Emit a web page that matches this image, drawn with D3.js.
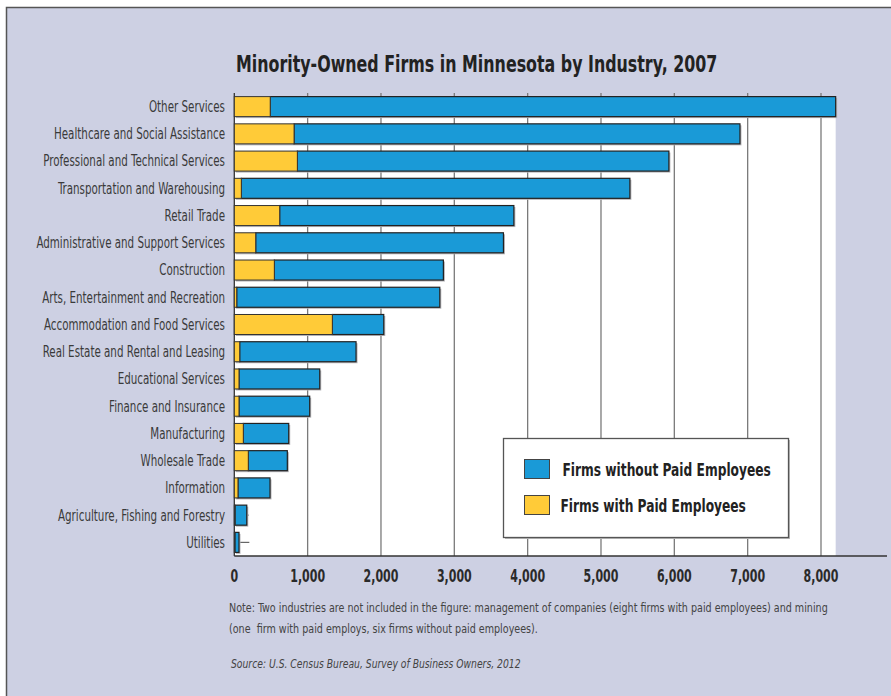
<!DOCTYPE html>
<html>
<head>
<meta charset="utf-8">
<script src="https://cdn.jsdelivr.net/npm/d3@7"></script>
<style>
  body { margin: 0; background: #fff; }
  svg { display: block; }
  text { font-family: "DejaVu Sans Condensed", "DejaVu Sans", sans-serif; font-stretch: condensed; }
</style>
</head>
<body>
<svg id="chart" width="891" height="696"></svg>
<script>
var industries = [
    "Other Services",
    "Healthcare and Social Assistance",
    "Professional and Technical Services",
    "Transportation and Warehousing",
    "Retail Trade",
    "Administrative and Support Services",
    "Construction",
    "Arts, Entertainment and Recreation",
    "Accommodation and Food Services",
    "Real Estate and Rental and Leasing",
    "Educational Services",
    "Finance and Insurance",
    "Manufacturing",
    "Wholesale Trade",
    "Information",
    "Agriculture, Fishing and Forestry",
    "Utilities"
];
var withPaid    = [490, 815, 860, 96, 619, 292, 546, 33, 1337, 74, 64, 64, 123, 191, 50, 10, 8];
var withoutPaid = [7710, 6080, 5066, 5298, 3193, 3378, 2305, 2769, 701, 1586, 1101, 964, 619, 532, 437, 160, 56];
// little leader lines past the two smallest bars
var leaderEnd   = [null, null, null, null, null, null, null, null, null, null, null, null, null, null, null, 196, 205];
var xTicks = [0, 1000, 2000, 3000, 4000, 5000, 6000, 7000, 8000];

var seriesNames = ["Firms without Paid Employees", "Firms with Paid Employees"];
var blue = "#1a9ad7", yellow = "#ffcb38";

var data = industries.map(function (d, i) {
    return {name: d, paid: withPaid[i], unpaid: withoutPaid[i], leader: leaderEnd[i]};
});

// squeeze text sideways, the original uses a condensed face
function squeeze(tx, ty, k) {
    return "translate(" + tx + "," + ty + ") scale(" + k + ",1)";
}

var svg = d3.select("#chart");

// panel
svg.append("rect")
    .attr("x", 6.5).attr("y", 7.5)
    .attr("width", 900).attr("height", 700)
    .attr("fill", "#cdd0e3")
    .attr("stroke", "#555").attr("stroke-width", 1.5);

svg.append("text")
    .attr("transform", squeeze(236, 72, 0.767))
    .attr("font-size", 23).attr("font-weight", "bold")
    .attr("fill", "#222")
    .text("Minority-Owned Firms in Minnesota by Industry, 2007");

var x = d3.scaleLinear().domain([0, 8000]).range([234.3, 821]);
var y = d3.scaleBand().domain(industries).range([93, 556])
    .paddingInner(0.265).paddingOuter(0.1325);

// white plot background
svg.append("rect")
    .attr("x", x(0)).attr("y", 96)
    .attr("width", x(8200) - x(0)).attr("height", 556 - 96)
    .attr("fill", "#fff");

// grid
svg.append("g").selectAll("line")
    .data(xTicks.slice(1))
    .enter().append("line")
    .attr("x1", function (d) { return x(d); })
    .attr("x2", function (d) { return x(d); })
    .attr("y1", 93).attr("y2", 556)
    .attr("stroke", "#7a7a7a").attr("stroke-width", 1.3);

svg.append("line")
    .attr("x1", x(0)).attr("x2", x(0))
    .attr("y1", 93).attr("y2", 556)
    .attr("stroke", "#333").attr("stroke-width", 1.3);

// bars
var rows = svg.append("g").selectAll("g")
    .data(data)
    .enter().append("g");

rows.append("line")
    .filter(function (d) { return d.leader != null; })
    .attr("x1", function (d) { return x(d.paid + d.unpaid); })
    .attr("x2", function (d) { return x(d.leader); })
    .attr("y1", function (d) { return y(d.name) + y.bandwidth() / 2; })
    .attr("y2", function (d) { return y(d.name) + y.bandwidth() / 2; })
    .attr("stroke", "#666").attr("stroke-width", 1.2);

rows.append("rect")
    .attr("x", function (d) { return x(0) + 1.5; })
    .attr("y", function (d) { return y(d.name) + 1.5; })
    .attr("width", function (d) { return x(d.paid + d.unpaid) - x(0); })
    .attr("height", y.bandwidth())
    .attr("fill", "#b4b4b8");

rows.append("rect")
    .attr("x", function (d) { return x(d.paid); })
    .attr("y", function (d) { return y(d.name); })
    .attr("width", function (d) { return x(d.paid + d.unpaid) - x(d.paid); })
    .attr("height", y.bandwidth())
    .attr("fill", blue).attr("stroke", "#222").attr("stroke-width", 1.2);

rows.append("rect")
    .attr("x", x(0))
    .attr("y", function (d) { return y(d.name); })
    .attr("width", function (d) { return x(d.paid) - x(0); })
    .attr("height", y.bandwidth())
    .attr("fill", yellow).attr("stroke", "#333").attr("stroke-width", 1);

rows.append("text")
    .attr("transform", function (d) { return squeeze(225, y(d.name) + y.bandwidth() / 2, 0.765); })
    .attr("dy", "0.36em")
    .attr("text-anchor", "end")
    .attr("font-size", 15)
    .attr("fill", "#3a3a3a")
    .text(function (d) { return d.name; });

// x axis
svg.append("line")
    .attr("x1", x(0)).attr("x2", 887)
    .attr("y1", 556).attr("y2", 556)
    .attr("stroke", "#333").attr("stroke-width", 1.5);

svg.append("g").selectAll("text")
    .data(xTicks)
    .enter().append("text")
    .attr("transform", function (d) { return squeeze(x(d), 582, 0.72); })
    .attr("text-anchor", "middle")
    .attr("font-size", 17).attr("font-weight", "bold")
    .attr("fill", "#2a2a2a")
    .text(function (d) { return d3.format(",")(d); });

// legend
var legend = svg.append("g").attr("transform", "translate(503.5,438.5)");
legend.append("rect")
    .attr("x", 1.5).attr("y", 1.5).attr("width", 285).attr("height", 99)
    .attr("fill", "#bbb");
legend.append("rect")
    .attr("width", 285).attr("height", 99)
    .attr("fill", "#fff").attr("stroke", "#555").attr("stroke-width", 1.3);

var items = legend.selectAll(".item")
    .data(seriesNames)
    .enter().append("g")
    .attr("class", "item")
    .attr("transform", function (d, i) { return "translate(21," + (21 + i * 36) + ")"; });
items.append("rect")
    .attr("width", 25).attr("height", 19)
    .attr("fill", function (d, i) { return i == 0 ? blue : yellow; })
    .attr("stroke", "#444").attr("stroke-width", 1);
items.append("text")
    .attr("transform", function (d, i) { return squeeze(i == 0 ? 38 : 36, 10, 0.8); })
    .attr("dy", "0.36em")
    .attr("font-size", 17).attr("font-weight", "bold")
    .attr("fill", "#222")
    .text(function (d) { return d; });

// notes
var notes = [
    "Note: Two industries are not included in the figure: management of companies (eight firms with paid employees) and mining",
    "(one  firm with paid employs, six firms without paid employees)."
];
svg.append("g").selectAll("text")
    .data(notes)
    .enter().append("text")
    .attr("transform", function (d, i) { return squeeze(229, 612 + i * 21, 0.82); })
    .attr("font-size", 13)
    .attr("fill", "#444")
    .attr("xml:space", "preserve")
    .style("white-space", "pre")
    .text(function (d) { return d; });

svg.append("text")
    .attr("transform", squeeze(231, 668, 0.79))
    .attr("font-size", 13).attr("font-style", "italic")
    .attr("fill", "#444")
    .text("Source: U.S. Census Bureau, Survey of Business Owners, 2012");
</script>
</body>
</html>
